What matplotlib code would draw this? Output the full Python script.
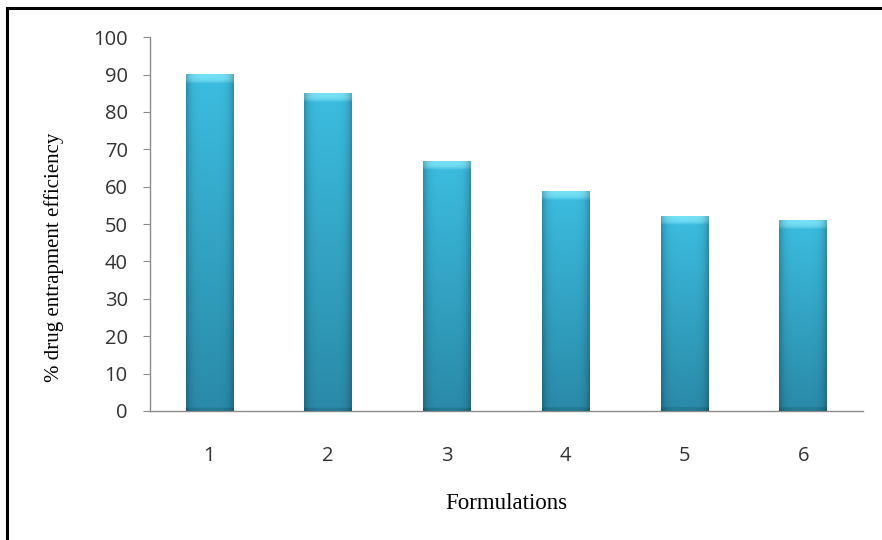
import numpy as np
import matplotlib.pyplot as plt
from matplotlib.patches import Rectangle
from matplotlib.colors import to_rgb

formulations = ["1", "2", "3", "4", "5", "6"]
efficiency = [90, 85, 66.8, 58.8, 52, 51]

BAR_WIDTH = 0.40
TOP_COLOR = to_rgb("#3cbde0")
BOTTOM_COLOR = to_rgb("#2a8aa8")


def shaded_bar(ax, x, h):
    # vertical fade from top to bottom, darker towards the side edges
    ny, nx = 300, 60
    t = np.linspace(0, 1, ny)[:, None, None]
    base = np.array(TOP_COLOR) * (1 - t) + np.array(BOTTOM_COLOR) * t
    u = np.linspace(-1, 1, nx)[None, :, None]
    side = 1 - 0.25 * np.abs(u) ** 5
    img = base * side
    # light bevel on the cap
    h_px = h * 3.74
    cap = max(int(ny * 9 / h_px), 2)
    light = np.array([0.50, 0.90, 0.98])
    for k in range(cap):
        f = 1 - (k / cap) ** 3
        img[k] = img[k] * (1 - 0.85 * f) + light * side[0] * 0.85 * f
    # slightly darker foot
    foot = max(int(ny * 4 / h_px), 1)
    img[-foot:] *= 0.88
    img = np.clip(img, 0, 1)
    ax.imshow(img, extent=(x - BAR_WIDTH / 2, x + BAR_WIDTH / 2, 0, h),
              aspect="auto", origin="upper", zorder=3, interpolation="bilinear")


fig = plt.figure(figsize=(8.82, 5.4), dpi=100)
ax = fig.add_axes([0.170, 0.239, 0.808, 0.692])

xs = np.arange(len(formulations))
for x, v in zip(xs, efficiency):
    shaded_bar(ax, x, v)

ax.set_xlim(-0.5, len(formulations) - 0.5)
ax.set_ylim(0, 100)
ax.set_yticks(range(0, 101, 10))
ax.set_xticks(xs)
ax.set_xticklabels(formulations)

for s in ["top", "right"]:
    ax.spines[s].set_visible(False)
for s in ["left", "bottom"]:
    ax.spines[s].set_color("#8c8c8c")
    ax.spines[s].set_linewidth(1.0)

ax.tick_params(axis="y", length=5, color="#8c8c8c", pad=11,
               labelsize=14.5, labelcolor="#333333")
ax.tick_params(axis="x", length=0, pad=25.5, labelsize=14.5, labelcolor="#333333")
for lab in ax.get_xticklabels() + ax.get_yticklabels():
    lab.set_family("Open Sans")

ax.set_ylabel("% drug entrapment efficiency", family="Liberation Serif",
              fontsize=15)
ax.yaxis.set_label_coords(-0.12, 0.41)
ax.set_xlabel("Formulations", family="Liberation Serif", fontsize=16.5,
              labelpad=19)

# outer frame
fig.patches.append(Rectangle((7 / 882, -0.1), 1.2, 1 - 8 / 540 + 0.1,
                             transform=fig.transFigure, fill=False,
                             edgecolor="black", linewidth=2.2))

fig.savefig("out.png", dpi=100)
